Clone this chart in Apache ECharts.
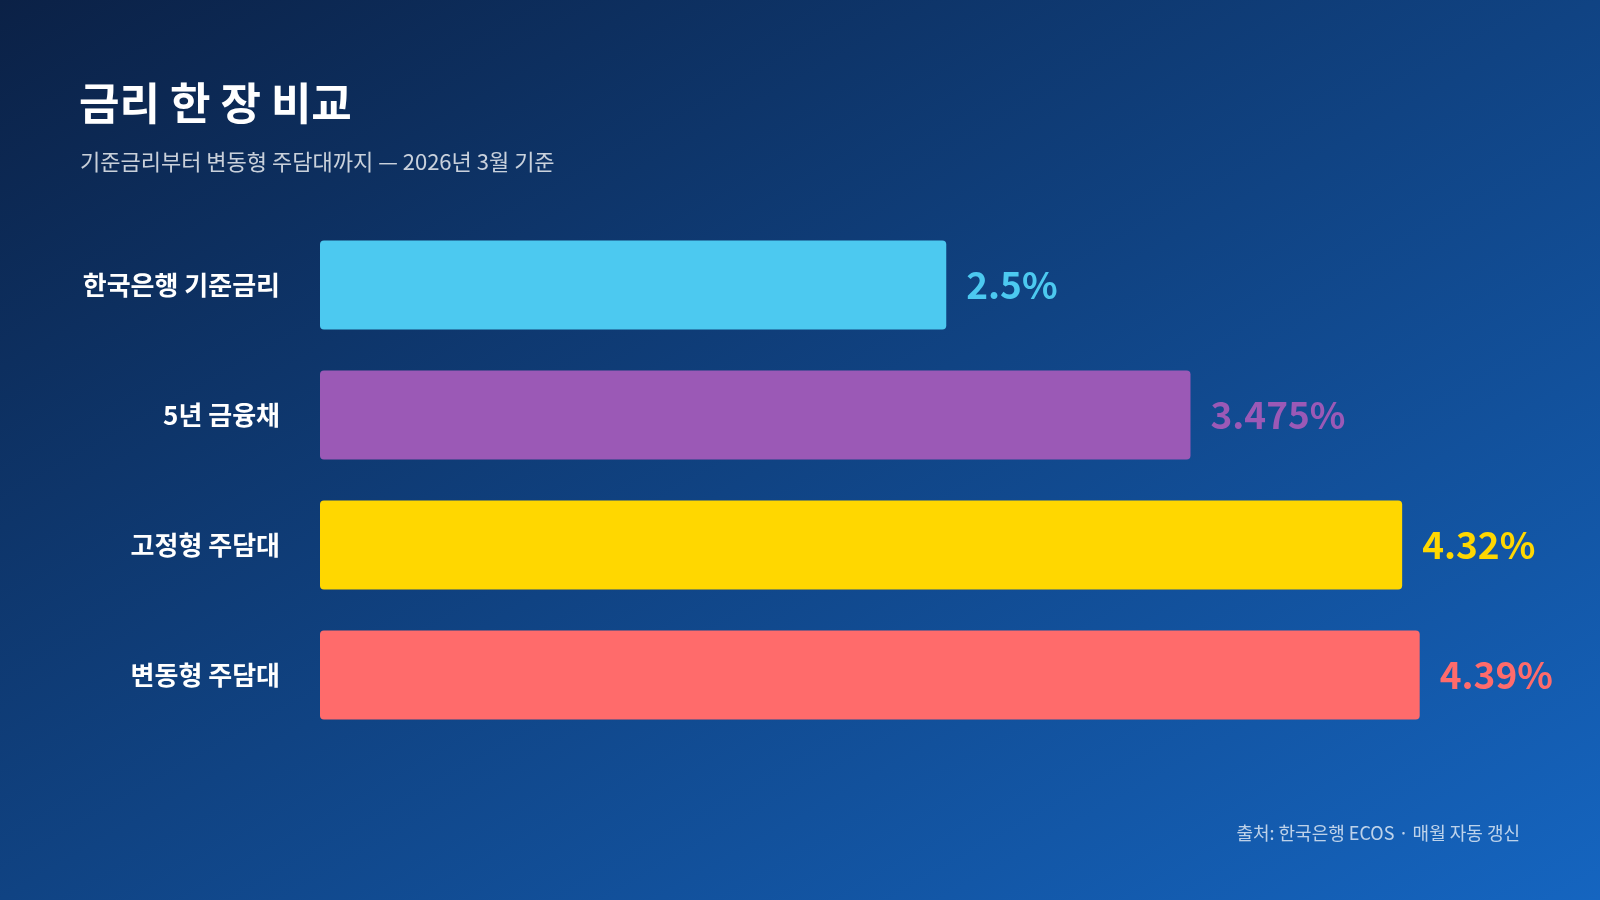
<!DOCTYPE html>
<html>
<head>
<meta charset="utf-8">
<script src="https://cdn.jsdelivr.net/npm/echarts@6/dist/echarts.min.js"></script>
<style>
  html, body { margin: 0; padding: 0; }
  #chart { width: 1600px; height: 900px; }
</style>
</head>
<body>
<div id="chart"></div>
<script>
const categories = ['한국은행 기준금리', '5년 금융채', '고정형 주담대', '변동형 주담대'];
const rates = [2.5, 3.475, 4.32, 4.39];
const barColors = ['#4cc9f0', '#9b59b6', '#ffd700', '#ff6b6b'];

const font = '"Noto Sans CJK KR", "Noto Sans", sans-serif';

const chart = echarts.init(document.getElementById('chart'));
chart.setOption({
  backgroundColor: {
    type: 'linear', global: true, x: 0, y: 0, x2: 769, y2: 1367,
    colorStops: [
      { offset: 0, color: '#0b2146' },
      { offset: 1, color: '#1565c0' }
    ]
  },
  title: [
    {
      text: '금리 한 장 비교',
      left: 79, top: 81, padding: 0,
      textStyle: { color: '#fff', fontSize: 44, fontWeight: 'bold', fontFamily: font }
    },
    {
      text: '기준금리부터 변동형 주담대까지 — 2026년 3월 기준',
      left: 80, top: 151, padding: 0,
      textStyle: { color: 'rgba(255,255,255,0.78)', fontSize: 22, fontWeight: 'normal', fontFamily: font }
    },
    {
      text: '출처: 한국은행 ECOS · 매월 자동 갱신',
      right: 80, top: 824, padding: 0,
      textStyle: { color: 'rgba(255,255,255,0.72)', fontSize: 18, fontWeight: 'normal', fontFamily: font }
    }
  ],
  grid: { left: 320, right: 27.5, top: 220, bottom: 160 },
  xAxis: {
    type: 'value', min: 0, max: 5,
    show: false
  },
  yAxis: {
    type: 'category',
    data: categories,
    inverse: true,
    axisLine: { show: false },
    axisTick: { show: false },
    axisLabel: {
      margin: 40,
      color: '#fff',
      fontSize: 26,
      fontWeight: 'bold',
      fontFamily: font,
      padding: [9, 0, 0, 0]
    }
  },
  series: [{
    type: 'bar',
    barWidth: 89,
    data: rates.map((v, i) => ({
      value: v,
      itemStyle: { color: barColors[i], borderRadius: 4 },
      label: { color: barColors[i] }
    })),
    label: {
      show: true,
      position: 'right',
      distance: 20,
      fontSize: 37,
      fontWeight: 'bold',
      fontFamily: font,
      formatter: p => p.value + '%'
    },
    silent: true,
    animation: false
  }]
});
</script>
</body>
</html>
